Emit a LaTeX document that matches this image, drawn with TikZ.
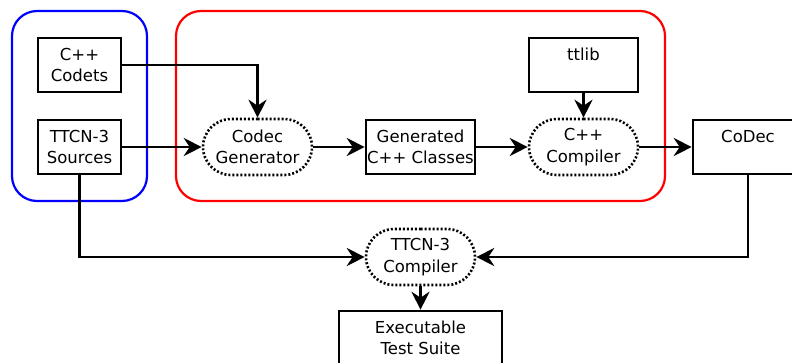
\documentclass[tikz,border=0pt]{standalone}
\usepackage{fontspec}
\setmainfont{DejaVu Sans}
\usetikzlibrary{shapes.misc}
\usetikzlibrary{arrows.meta}

\tikzset{
  tool/.style={rounded rectangle,draw,line width=2.6pt,dash pattern=on 2pt off 2pt,minimum width=109pt,minimum height=56pt,inner sep=0pt,align=center},
  file/.style={rectangle,draw,line width=2.6pt,minimum height=54pt,inner sep=0pt,align=center},
  flow/.style={line width=2.6pt,-{Stealth[length=18pt,width=18pt,inset=6pt]}},
  group/.style={line width=2.2pt,rounded corners=25pt}
}

\begin{document}
\begin{tikzpicture}[x=1pt,y=-1pt,font=\fontsize{16.5}{21.5}\selectfont]
		\useasboundingbox (0,0) rectangle (792,362);
		% groups
		\draw[group,blue] (12,11) rectangle (147,201);
		\draw[group,red] (176,11) rectangle (665,201);
		% files
		\node[file,minimum width=83pt] (codets) at (79.5,65) {C++\\Codets};
		\node[file,minimum width=83pt] (sources) at (79.5,147) {TTCN-3\\Sources};
		\node[file,minimum width=109pt] (classes) at (420.5,147) {Generated\\C++ Classes};
		\node[file,minimum width=109pt] (ttlib) at (583.5,65) {ttlib\\~};
		\node[file,minimum width=110pt] (codec) at (748,147) {CoDec\\~};
		\node[file,minimum width=163pt] (suite) at (420.5,338) {Executable\\Test Suite};
		% tools
		\node[tool] (gen) at (257.5,147) {Codec\\Generator};
		\node[tool] (cppc) at (583.5,147) {C++\\Compiler};
		\node[tool] (ttcnc) at (420.5,257) {TTCN-3\\Compiler};
		% connectors
		\draw[flow] (codets.east) -| (gen.north);
		\draw[flow] (sources.east) -- (gen.west);
		\draw[flow] (gen.east) -- (classes.west);
		\draw[flow] (classes.east) -- (cppc.west);
		\draw[flow] (ttlib.south) -- (cppc.north);
		\draw[flow] (cppc.east) -- (codec.west);
		\draw[flow] (sources.south) |- (ttcnc.west);
		\draw[flow] (codec.south) |- (ttcnc.east);
		\draw[flow] (ttcnc.south) -- (suite.north);
\end{tikzpicture}
\end{document}
